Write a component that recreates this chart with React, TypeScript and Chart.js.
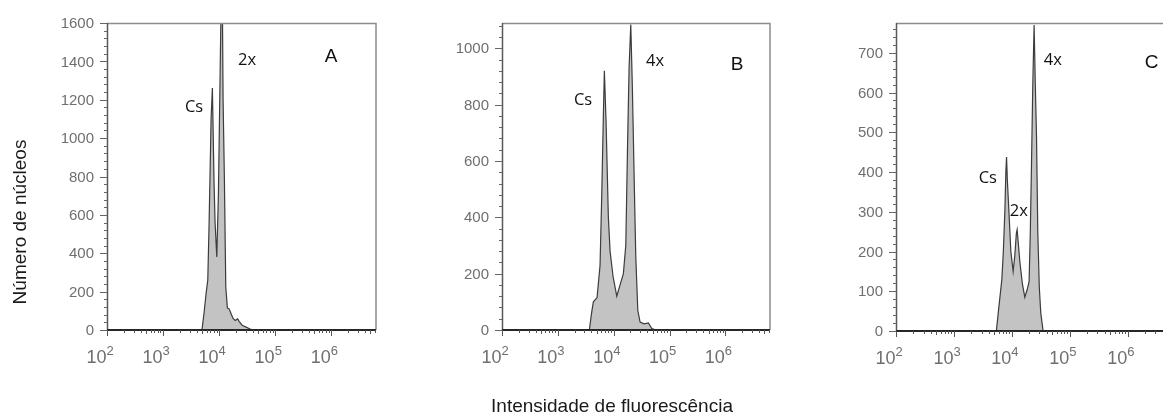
import React, { useEffect, useRef } from 'react';
import { Chart, registerables } from 'chart.js';

Chart.register(...registerables);

// ---------- data ----------
const X_MIN = 100;
const X_MAX = 6309573;
const X_DECADES = [2, 3, 4, 5, 6];

const A_X = [4771, 4971, 5397, 5860, 6284, 6628, 6907, 7197, 7595, 7814, 8142, 8483, 9098, 9716, 10420, 10857, 11454, 11788, 12434, 13170, 14071, 15085, 16378, 17783, 19307, 21400, 22758, 25743, 30353, 35783, 40469];
const A_Y = [0, 5, 90, 190, 260, 550, 820, 1100, 1261, 1050, 760, 560, 380, 700, 1320, 1700, 1700, 1200, 790, 224, 115, 110, 85, 60, 50, 58, 45, 25, 15, 5, 0];
const A_YTICKS = [0, 200, 400, 600, 800, 1000, 1200, 1400, 1600];

const B_X = [3668, 4017, 4328, 5042, 5705, 6118, 6539, 6814, 7306, 8035, 8620, 9754, 11367, 13023, 14923, 16480, 17598, 18880, 20253, 21633, 23496, 24899, 27034, 29729, 35057, 41879, 48186, 57544];
const B_Y = [0, 60, 100, 115, 230, 480, 760, 920, 740, 400, 280, 190, 120, 160, 200, 300, 620, 930, 1085, 860, 500, 260, 70, 28, 22, 25, 5, 0];
const B_YTICKS = [0, 200, 400, 600, 800, 1000];

const C_X = [5406, 5969, 6725, 7135, 7576, 7883, 8104, 8365, 8982, 9612, 10529, 11264, 11957, 12343, 12945, 13738, 15171, 16753, 18502, 19877, 20845, 21863, 23016, 24235, 25424, 26666, 28074, 29801, 31623, 34651];
const C_Y = [0, 60, 130, 200, 300, 400, 438, 380, 290, 200, 150, 190, 245, 255, 220, 175, 120, 85, 105, 125, 250, 420, 620, 770, 620, 490, 250, 110, 45, 0];
const C_YTICKS = [0, 100, 200, 300, 400, 500, 600, 700];

const A_NOTES = [
  { text: 'Cs', x: 3578, y: 1162, big: false },
  { text: '2x', x: 31623, y: 1407, big: false },
  { text: 'A', x: 1000000, y: 1423, big: true },
];
const B_NOTES = [
  { text: 'Cs', x: 2828, y: 816, big: false },
  { text: '4x', x: 55200, y: 954, big: false },
  { text: 'B', x: 1627000, y: 943, big: true },
];
const C_NOTES = [
  { text: 'Cs', x: 3855, y: 385, big: false },
  { text: '2x', x: 13205, y: 302, big: false },
  { text: '4x', x: 50930, y: 682, big: false },
  { text: 'C', x: 2594000, y: 675, big: true },
];

const Y_TITLE = 'Número de núcleos';
const X_TITLE = 'Intensidade de fluorescência';

// ---------- layout ----------
const W = 1200;
const H = 417;

type Panel = {
  xs: number[];
  ys: number[];
  yMax: number;
  yTicks: number[];
  yMinorStep: number;
  notes: { text: string; x: number; y: number; big: boolean }[];
  area: { left: number; top: number; right: number; bottom: number };
  yTitle?: boolean;
  xTitle?: boolean;
};

const PANELS: Panel[] = [
  { xs: A_X, ys: A_Y, yMax: 1600, yTicks: A_YTICKS, yMinorStep: 40, notes: A_NOTES, area: { left: 107, top: 23, right: 376, bottom: 330 }, yTitle: true },
  { xs: B_X, ys: B_Y, yMax: 1090, yTicks: B_YTICKS, yMinorStep: 40, notes: B_NOTES, area: { left: 502, top: 23, right: 770, bottom: 330 }, xTitle: true },
  { xs: C_X, ys: C_Y, yMax: 775, yTicks: C_YTICKS, yMinorStep: 20, notes: C_NOTES, area: { left: 896, top: 23, right: 1174, bottom: 331 } },
];

const TICK_FONT = '15px "Liberation Sans", Arial, sans-serif';
const TICK_COLOR = '#6f6f6f';

function makePlugin(p: Panel) {
  return {
    id: 'flowDecor',
    afterDatasetsDraw(chart: any) {
      const ctx: CanvasRenderingContext2D = chart.ctx;
      const ca = chart.chartArea;
      const xs = chart.scales.x;
      const ys = chart.scales.y;
      ctx.save();
      // frame: top & right
      ctx.strokeStyle = '#8c8c8c';
      ctx.lineWidth = 1.5;
      ctx.beginPath();
      ctx.moveTo(ca.left, ca.top + 0.5);
      ctx.lineTo(ca.right, ca.top + 0.5);
      ctx.lineTo(ca.right, ca.bottom);
      ctx.stroke();
      // left axis
      ctx.strokeStyle = '#5a5a5a';
      ctx.lineWidth = 1.5;
      ctx.beginPath();
      ctx.moveTo(ca.left + 0.5, ca.top);
      ctx.lineTo(ca.left + 0.5, ca.bottom + 1);
      ctx.stroke();
      // zero line / bottom axis
      const y0 = ys.getPixelForValue(0);
      ctx.strokeStyle = '#262626';
      ctx.lineWidth = 2;
      ctx.beginPath();
      ctx.moveTo(ca.left, y0);
      ctx.lineTo(ca.right, y0);
      ctx.stroke();

      // y ticks
      ctx.strokeStyle = '#666';
      ctx.lineWidth = 1;
      ctx.beginPath();
      for (let v = 0; v <= p.yMax + 0.001; v += p.yMinorStep) {
        const py = Math.round(ys.getPixelForValue(v)) + 0.5;
        ctx.moveTo(ca.left - 3, py);
        ctx.lineTo(ca.left, py);
      }
      for (const v of p.yTicks) {
        const py = Math.round(ys.getPixelForValue(v)) + 0.5;
        ctx.moveTo(ca.left - 7, py);
        ctx.lineTo(ca.left, py);
      }
      ctx.stroke();
      ctx.fillStyle = TICK_COLOR;
      ctx.font = TICK_FONT;
      ctx.textAlign = 'right';
      ctx.textBaseline = 'middle';
      for (const v of p.yTicks) {
        ctx.fillText(String(v), ca.left - 13, ys.getPixelForValue(v) + 1);
      }

      // x ticks (log)
      ctx.strokeStyle = '#555';
      ctx.beginPath();
      for (let n = 2; n <= 6; n++) {
        for (let k = 1; k <= 9; k++) {
          const v = k * Math.pow(10, n);
          if (v > X_MAX) continue;
          const px = Math.round(xs.getPixelForValue(v)) + 0.5;
          const len = k === 1 ? 6 : k === 5 ? 4 : 3;
          ctx.moveTo(px, y0);
          ctx.lineTo(px, y0 + len);
        }
      }
      ctx.stroke();
      ctx.fillStyle = TICK_COLOR;
      for (const e of X_DECADES) {
        const px = xs.getPixelForValue(Math.pow(10, e));
        ctx.font = '18px "Liberation Sans Narrow", "Liberation Sans", Arial, sans-serif';
        ctx.textAlign = 'right';
        ctx.textBaseline = 'alphabetic';
        ctx.fillText('10', px - 0.5, y0 + 33);
        ctx.font = '13px "Liberation Sans Narrow", "Liberation Sans", Arial, sans-serif';
        ctx.textAlign = 'left';
        ctx.fillText(String(e), px - 0.5, y0 + 25);
      }

      // annotations
      ctx.fillStyle = '#111';
      ctx.textAlign = 'center';
      ctx.textBaseline = 'middle';
      for (const n of p.notes) {
        ctx.font = n.big ? '19px "Liberation Sans", Arial, sans-serif' : '16.5px "Open Sans", "Noto Sans", sans-serif';
        ctx.fillText(n.text, xs.getPixelForValue(n.x), ys.getPixelForValue(n.y));
      }

      // global titles
      ctx.fillStyle = '#1a1a1a';
      ctx.font = '19px "Liberation Sans", Arial, sans-serif';
      if (p.yTitle) {
        ctx.save();
        ctx.translate(21, 222);
        ctx.rotate(-Math.PI / 2);
        ctx.textAlign = 'center';
        ctx.textBaseline = 'middle';
        ctx.fillText(Y_TITLE, 0, 0);
        ctx.restore();
      }
      if (p.xTitle) {
        ctx.textAlign = 'center';
        ctx.textBaseline = 'middle';
        ctx.fillText(X_TITLE, 612, 407);
      }
      ctx.restore();
    },
  };
}

function PanelChart({ p }: { p: Panel }) {
  const ref = useRef<HTMLCanvasElement | null>(null);
  useEffect(() => {
    if (!ref.current) return;
    const data = p.xs.map((x, i) => ({ x, y: p.ys[i] }));
    const chart = new Chart(ref.current, {
      type: 'line',
      data: {
        datasets: [
          {
            data,
            borderColor: '#3c3c3c',
            borderWidth: 1.2,
            backgroundColor: '#c3c3c3',
            fill: 'origin',
            pointRadius: 0,
            tension: 0,
          },
        ],
      },
      options: {
        animation: false,
        responsive: false,
        devicePixelRatio: 1,
        layout: {
          padding: {
            left: p.area.left,
            top: p.area.top,
            right: W - p.area.right,
            bottom: H - p.area.bottom,
          },
        },
        plugins: { legend: { display: false }, tooltip: { enabled: false }, title: { display: false } },
        scales: {
          x: { type: 'logarithmic', min: X_MIN, max: X_MAX, display: false },
          y: { type: 'linear', min: 0, max: p.yMax, display: false },
        },
      },
      plugins: [makePlugin(p)],
    });
    return () => chart.destroy();
  }, [p]);
  return (
    <canvas
      ref={ref}
      width={W}
      height={H}
      style={{ position: 'absolute', left: 0, top: 0, width: W, height: H }}
    />
  );
}

export default function App() {
  return (
    <div
      style={{
        position: 'fixed',
        left: 0,
        top: 0,
        width: 1163,
        height: 417,
        overflow: 'hidden',
        background: '#fff',
      }}
    >
      {PANELS.map((p, i) => (
        <PanelChart key={i} p={p} />
      ))}
    </div>
  );
}
